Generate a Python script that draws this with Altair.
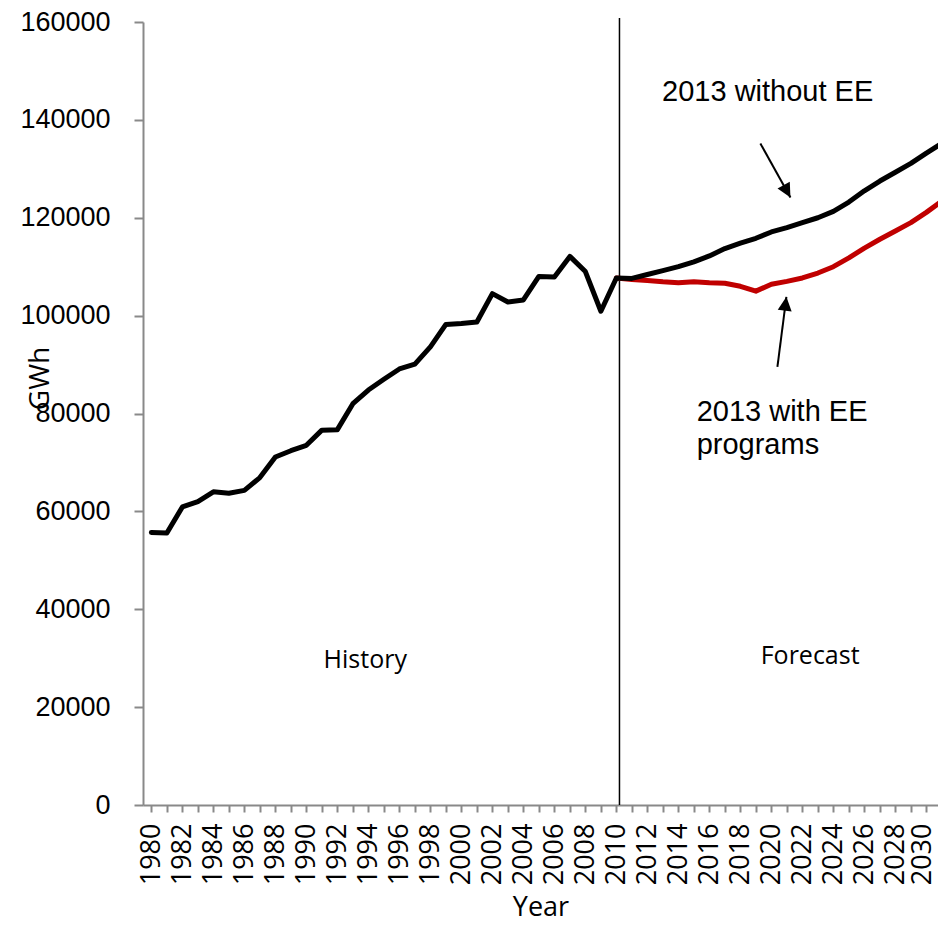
import altair as alt
import pandas as pd

# ---- data ----
hist_years = list(range(1980, 2011))
hist_gwh = [55700, 55600, 60900, 62000, 64000, 63700, 64300, 66900, 71100, 72400,
            73500, 76600, 76700, 82000, 84800, 87000, 89100, 90100, 93600, 98200,
            98400, 98700, 104500, 102800, 103200, 108000, 107900, 112100, 109000, 100900,
            107700]
fc_years = list(range(2010, 2032))
fc_no_ee = [107700, 107600, 108400, 109200, 110000, 111000, 112200, 113700, 114800, 115800,
            117100, 118000, 119000, 120000, 121300, 123200, 125500, 127500, 129300, 131100,
            133200, 135200]
fc_ee = [107700, 107400, 107200, 106900, 106700, 106900, 106700, 106600, 106000, 105000,
         106400, 107000, 107700, 108700, 110000, 111800, 113800, 115600, 117300, 119000,
         121100, 123400]

divider_year = [2010.2]

note_text = ["History", "Forecast"]
note_x = [1993.8, 2022.5]
note_y = [29600, 30400]

label_text = ["2013 without EE"]
label_x = [2019.76]
label_y = [145700]

label2_text = ["2013 with EE", "programs"]
label2_x = [2015.18, 2015.18]
label2_y = [80300, 73500]

arrow_x = [2019.29, 2020.39]
arrow_y = [135180, 89540]
arrow_x2 = [2021.23, 2020.97]
arrow_y2 = [124150, 103850]
arrow_angle = [151, 7]

tick_years = list(range(1980, 2031))
y_ticks = [0, 20000, 40000, 60000, 80000, 100000, 120000, 140000, 160000]

# ---- tables ----
black_df = pd.DataFrame({"year": hist_years + fc_years[1:], "gwh": hist_gwh + fc_no_ee[1:]})
red_df = pd.DataFrame({"year": fc_years, "gwh": fc_ee})
div_df = pd.DataFrame({"year": divider_year, "gwh": [0], "y1": [160800]})
note_df = pd.DataFrame({"year": note_x, "gwh": note_y, "t": note_text})
lab_df = pd.DataFrame({"year": label_x, "gwh": label_y, "t": label_text})
lab2_df = pd.DataFrame({"year": label2_x, "gwh": label2_y, "t": label2_text})
arr_df = pd.DataFrame({"year": arrow_x, "gwh": arrow_y, "x2": arrow_x2, "y2": arrow_y2, "a": arrow_angle})
head_df = pd.DataFrame({"year": arrow_x2, "gwh": arrow_y2, "a": arrow_angle})

xs = alt.Scale(domain=[1979.46, 2030.75], nice=False, zero=False)
ys = alt.Scale(domain=[0, 160000], nice=False)
AX = "#898989"

x_axis = alt.Axis(
    values=tick_years,
    labelExpr="datum.value % 2 == 0 ? '' + datum.value : ''",
    labelAngle=270, labelAlign="right", labelBaseline="middle",
    labelOverlap=False, labelFlush=False,
    labelOffset={"condition": {"test": "datum.value == 2030", "value": -4}, "value": 0},
    grid=False, domainColor=AX, domainWidth=2, tickColor=AX, tickWidth=2, tickSize=7,
    labelFont="Open Sans", labelFontSize=27, labelColor="black", labelPadding=11,
    title="Year", titleFont="Open Sans", titleFontSize=27, titleFontWeight="normal",
    titleColor="black", titlePadding=10,
)
y_axis = alt.Axis(
    values=y_ticks, format="d",
    grid=False, domainColor=AX, domainWidth=2, tickColor=AX, tickWidth=2, tickSize=9,
    labelFont="Liberation Sans", labelFontSize=27, labelColor="black", labelPadding=24,
    title="GWh", titleFont="Open Sans", titleFontSize=28, titleFontWeight="normal",
    titleColor="black", titleX=-103, titleY=356, titleAngle=270,
    titleAlign="center", titleBaseline="middle",
)

X = alt.X("year:Q", scale=xs, axis=x_axis, title="Year")
Y = alt.Y("gwh:Q", scale=ys, axis=y_axis, title="GWh")

black = alt.Chart(black_df).mark_line(color="black", strokeWidth=5, strokeJoin="round", strokeCap="round", clip=True).encode(x=X, y=Y)
red = alt.Chart(red_df).mark_line(color="#C00000", strokeWidth=5, strokeJoin="round", strokeCap="round", clip=True).encode(x=X, y=Y)
divider = alt.Chart(div_df).mark_rule(color="black", strokeWidth=1.5).encode(x=X, y=Y, y2="y1:Q")
notes = alt.Chart(note_df).mark_text(font="Open Sans", fontSize=25, color="black", align="center", baseline="middle").encode(
    x=X, y=Y, text="t:N")
labs = alt.Chart(lab_df).mark_text(font="Liberation Sans", fontSize=29, color="black", align="center", baseline="middle").encode(
    x=X, y=Y, text="t:N")
labs2 = alt.Chart(lab2_df).mark_text(font="Liberation Sans", fontSize=29, color="black", align="left", baseline="middle").encode(
    x=X, y=Y, text="t:N")
arrow_lines = alt.Chart(arr_df).mark_rule(color="black", strokeWidth=2).encode(
    x=X, y=Y, x2="x2:Q", y2="y2:Q")
arrow_heads = alt.Chart(head_df).mark_point(
    shape="M0,0 L-0.5,1 L0.5,1 Z", filled=True, color="black", size=784, opacity=1, strokeWidth=0
).encode(x=X, y=Y, angle=alt.Angle("a:Q", scale=None))

chart = alt.layer(divider, red, black, notes, labs, labs2, arrow_lines, arrow_heads).properties(
    width=795, height=783,
    autosize=alt.AutoSizeParams(type="none"),
    padding={"left": 135, "top": 14, "right": 0, "bottom": 118},
    background="white",
).configure_view(strokeWidth=0)

chart.save("out.html", embed_options={"renderer": "svg", "actions": False})
